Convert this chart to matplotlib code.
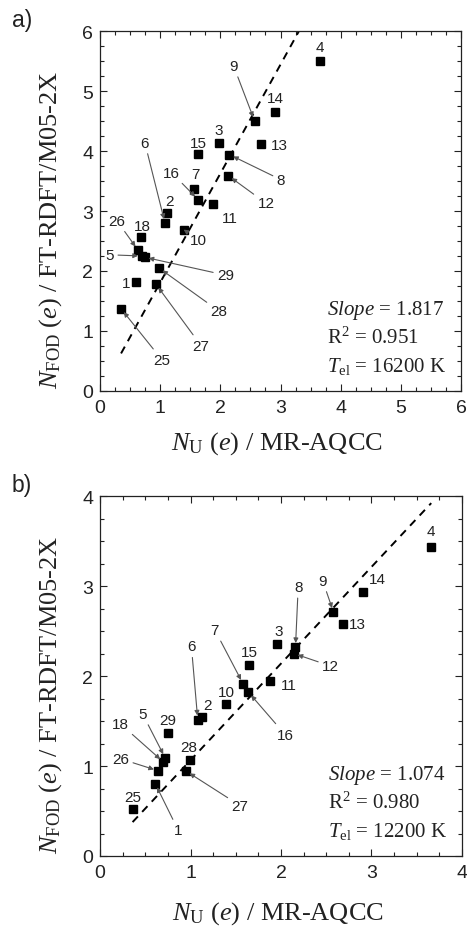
import numpy as np
import matplotlib
matplotlib.use("Agg")
import matplotlib.pyplot as plt
from matplotlib.ticker import MultipleLocator

# panel a: FT-RDFT (T_el = 16200 K) vs MR-AQCC
ids_a = ["4", "14", "9", "13", "3", "15", "8", "12", "7", "16", "11", "2", "6",
         "10", "18", "26", "5", "29", "28", "1", "27", "25"]
nu_a = [3.65, 2.91, 2.57, 2.68, 1.97, 1.63, 2.15, 2.13, 1.57, 1.63, 1.88, 1.12, 1.08,
        1.39, 0.68, 0.63, 0.70, 0.74, 0.98, 0.60, 0.93, 0.35]
nfod_a = [5.50, 4.65, 4.50, 4.11, 4.14, 3.95, 3.94, 3.59, 3.36, 3.19, 3.12, 2.96, 2.80,
          2.69, 2.56, 2.35, 2.25, 2.23, 2.05, 1.81, 1.78, 1.37]

# panel b: FT-RDFT (T_el = 12200 K) vs MR-AQCC
ids_b = ["4", "14", "9", "13", "3", "8", "12", "15", "7", "16", "11", "10", "2", "6",
         "29", "28", "5", "18", "26", "27", "1", "25"]
nu_b = [3.66, 2.91, 2.58, 2.68, 1.96, 2.16, 2.14, 1.65, 1.58, 1.64, 1.88, 1.39, 1.13, 1.08,
        0.75, 0.99, 0.72, 0.70, 0.64, 0.95, 0.61, 0.36]
nfod_b = [3.43, 2.93, 2.71, 2.58, 2.36, 2.32, 2.25, 2.12, 1.915, 1.82, 1.94, 1.685, 1.545, 1.515,
          1.37, 1.065, 1.09, 1.045, 0.948, 0.944, 0.805, 0.52]

fit_a = {"slope": 1.817, "icpt": -0.01, "r2": "0.951", "tel": "16200"}
fit_b = {"slope": 1.074, "icpt": -0.01, "r2": "0.980", "tel": "12200"}

# label placement (data coords) and whether an arrow points to the square
lab_a = {"4": (3.65, 5.73, 0), "14": (2.92, 4.88, 0), "9": (2.22, 5.42, 1), "13": (2.98, 4.10, 0),
         "3": (1.97, 4.35, 0), "15": (1.64, 4.13, 0), "8": (3.01, 3.52, 1), "12": (2.76, 3.13, 1),
         "7": (1.59, 3.62, 0), "16": (1.19, 3.64, 1), "11": (2.15, 2.88, 0), "2": (1.15, 3.17, 0),
         "6": (0.745, 4.14, 1), "10": (1.64, 2.52, 1), "18": (0.71, 2.745, 0), "26": (0.28, 2.84, 1),
         "5": (0.16, 2.27, 1), "29": (2.09, 1.93, 1), "28": (1.98, 1.33, 1), "1": (0.43, 1.795, 0),
         "27": (1.68, 0.755, 1), "25": (1.03, 0.52, 1)}
lab_b = {"4": (3.66, 3.61, 0), "14": (3.06, 3.08, 0), "9": (2.46, 3.06, 1), "13": (2.84, 2.58, 0),
         "3": (1.97, 2.50, 0), "8": (2.19, 2.99, 1), "12": (2.55, 2.11, 1), "15": (1.65, 2.27, 0),
         "7": (1.27, 2.51, 1), "16": (2.045, 1.35, 1), "11": (2.09, 1.90, 0), "10": (1.40, 1.82, 0),
         "2": (1.185, 1.675, 0), "6": (1.01, 2.33, 1), "29": (0.75, 1.51, 0), "28": (0.985, 1.21, 0),
         "5": (0.47, 1.58, 1), "18": (0.224, 1.47, 1), "26": (0.226, 1.08, 1), "27": (1.547, 0.56, 1),
         "1": (0.865, 0.285, 1), "25": (0.365, 0.655, 0)}

plt.rcParams["mathtext.fontset"] = "custom"
plt.rcParams["mathtext.rm"] = "Liberation Serif"
plt.rcParams["mathtext.it"] = "Liberation Serif:italic"

ink = "#222222"
fig = plt.figure(figsize=(4.67, 9.28), dpi=100)


def panel(ax, ids, x, y, fit, labs, lim, tag, xlab_y):
    x = np.array(x)
    ax.plot(x, y, "s", color="black", ms=5.5, zorder=3)
    xf = np.array([x.min(), x.max()])
    ax.plot(xf, fit["slope"] * xf + fit["icpt"], color="black", lw=1.4, dashes=(4, 3.2))
    for i, k in enumerate(ids):
        tx, ty, arr = labs[k]
        props = None
        if arr:
            props = dict(arrowstyle="-|>", color="#555555", lw=0.8, mutation_scale=7,
                         shrinkA=1, shrinkB=3)
        ax.annotate(k, (x[i], y[i]), xytext=(tx, ty), ha="center", va="center",
                    fontsize=11, family="Liberation Sans", color=ink, arrowprops=props)
    ax.set_xlim(0, lim)
    ax.set_ylim(0, lim)
    ax.xaxis.set_major_locator(MultipleLocator(1))
    ax.yaxis.set_major_locator(MultipleLocator(1))
    ax.xaxis.set_minor_locator(MultipleLocator(0.25))
    ax.yaxis.set_minor_locator(MultipleLocator(0.25))
    ax.tick_params(which="both", direction="in", top=True, right=True, colors=ink,
                   labelsize=14, width=0.8)
    ax.tick_params(which="major", length=4.8)
    ax.tick_params(which="minor", length=2.8)
    ax.tick_params(axis="x", pad=6)
    ax.tick_params(axis="y", pad=5)
    for t in ax.get_xticklabels() + ax.get_yticklabels():
        t.set_family("Liberation Sans")
    for s in ax.spines.values():
        s.set_color(ink)
        s.set_linewidth(0.9)
    ax.set_xlabel(r"$N_{\mathrm{U}}$ ($e$) / MR-AQCC", family="Liberation Serif",
                  fontsize=19, color=ink)
    ax.set_ylabel(r"$N_{\mathrm{FOD}}$ ($e$) / FT-RDFT/M05-2X", family="Liberation Serif",
                  fontsize=19, color=ink)
    ax.xaxis.set_label_coords(0.49, xlab_y)
    ax.yaxis.set_label_coords(-0.1, 0.45)
    stats = [r"$Slope$ = %.3f" % fit["slope"], r"R$^2$ = " + fit["r2"],
             r"$T_{\mathrm{el}}$ = " + fit["tel"] + " K"]
    for j, s in enumerate(stats):
        ax.text(0.63, 0.215 - j * 0.08, s, transform=ax.transAxes, family="Liberation Serif",
                fontsize=15, color=ink, ha="left", va="baseline")
    ax.text(-0.245, 1.0, tag, transform=ax.transAxes, family="Liberation Sans",
            fontsize=16.5, color=ink, ha="left", va="bottom")


ax1 = fig.add_axes([100 / 467, 1 - 392 / 928, 361 / 467, 360 / 928])
panel(ax1, ids_a, nu_a, nfod_a, fit_a, lab_a, 6, "a)", -0.105)
ax2 = fig.add_axes([100 / 467, 1 - 857 / 928, 362 / 467, 360 / 928])
panel(ax2, ids_b, nu_b, nfod_b, fit_b, lab_b, 4, "b)", -0.12)

fig.savefig("out.png", dpi=100)
